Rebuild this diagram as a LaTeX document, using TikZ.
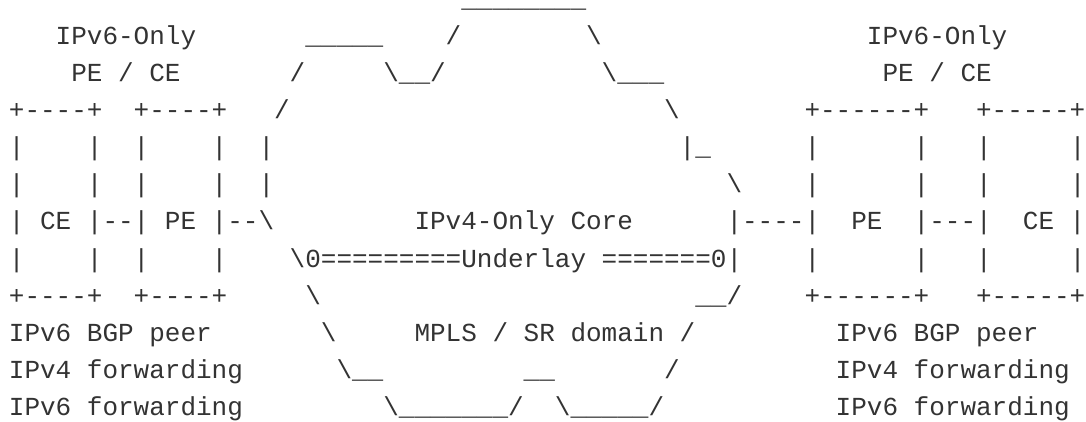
\documentclass[tikz,border=0pt]{standalone}
\usepackage{fontspec}
\setmonofont{Liberation Mono}
\definecolor{inkgray}{RGB}{51,51,51}
\begin{document}
\begin{tikzpicture}[
		x=15.6pt,
		y=-37pt,
		ascii/.style={anchor=base west,inner sep=0pt,outer sep=0pt,text=inkgray,
			font=\ttfamily\fontsize{26}{26}\selectfont}
		]
		\fill[white] (-8.9pt,8pt) rectangle (1077.1pt,-414pt);
		\useasboundingbox (-8.9pt,8pt) rectangle (1077.1pt,-414pt);
		% row 0-2: headings and top of the core cloud
		\node[ascii,text height=0pt] (cloudtop) at (29,0) {\_\_\_\_\_\_\_\_};
		\node[ascii] (lhead) at (3,1) {IPv6-Only};
		\node[ascii] (cloudA) at (19,1) {\_\_\_\_\_};
		\node[ascii] (cloudB) at (28,1) {/};
		\node[ascii] (cloudC) at (37,1) {\textbackslash};
		\node[ascii] (rhead) at (55,1) {IPv6-Only};
		\node[ascii] (lsub) at (4,2) {PE / CE};
		\node[ascii] (cloudD) at (18,2) {/};
		\node[ascii] (cloudE) at (24,2) {\textbackslash\_\_/};
		\node[ascii] (cloudF) at (38,2) {\textbackslash\_\_\_};
		\node[ascii] (rsub) at (56,2) {PE / CE};
		% row 3-8: boxes and core
		\node[ascii] (lboxtop) at (0,3) {+----+~~+----+};
		\node[ascii] (cloudG) at (17,3) {/};
		\node[ascii] (cloudH) at (42,3) {\textbackslash};
		\node[ascii] (rboxtop) at (51,3) {+------+~~~+-----+};
		\node[ascii] (lsideA) at (0,4) {|~~~~|~~|~~~~|~~|};
		\node[ascii] (cloudI) at (43,4) {|\_};
		\node[ascii] (rsideA) at (51,4) {|~~~~~~|~~~|~~~~~|};
		\node[ascii] (lsideB) at (0,5) {|~~~~|~~|~~~~|~~|};
		\node[ascii] (cloudJ) at (46,5) {\textbackslash};
		\node[ascii] (rsideB) at (51,5) {|~~~~~~|~~~|~~~~~|};
		\node[ascii] (lnodes) at (0,6) {| CE |--| PE |--\textbackslash};
		\node[ascii] (core) at (26,6) {IPv4-Only Core};
		\node[ascii] (rnodes) at (46,6) {|----|~~PE~~|---|~~CE |};
		\node[ascii] (lsideC) at (0,7) {|~~~~|~~|~~~~|};
		\node[ascii] (underlay) at (18,7) {\textbackslash 0=========Underlay =======0|};
		\node[ascii] (rsideC) at (51,7) {|~~~~~~|~~~|~~~~~|};
		\node[ascii] (lboxbot) at (0,8) {+----+~~+----+};
		\node[ascii] (cloudK) at (19,8) {\textbackslash};
		\node[ascii] (cloudL) at (44,8) {\_\_/};
		\node[ascii] (rboxbot) at (51,8) {+------+~~~+-----+};
		% row 9-11: roles and bottom of the core cloud
		\node[ascii] (lroleA) at (0,9) {IPv6 BGP peer};
		\node[ascii] (cloudM) at (20,9) {\textbackslash};
		\node[ascii] (domain) at (26,9) {MPLS / SR domain /};
		\node[ascii] (rroleA) at (53,9) {IPv6 BGP peer};
		\node[ascii] (lroleB) at (0,10) {IPv4 forwarding};
		\node[ascii] (cloudN) at (21,10) {\textbackslash\_\_};
		\node[ascii] (cloudO) at (33,10) {\_\_};
		\node[ascii] (cloudP) at (42,10) {/};
		\node[ascii] (rroleB) at (53,10) {IPv4 forwarding};
		\node[ascii] (lroleC) at (0,11) {IPv6 forwarding};
		\node[ascii] (cloudbot) at (24,11) {\textbackslash\_\_\_\_\_\_\_/~~\textbackslash\_\_\_\_\_/};
		\node[ascii] (rroleC) at (53,11) {IPv6 forwarding};
\end{tikzpicture}
\end{document}
